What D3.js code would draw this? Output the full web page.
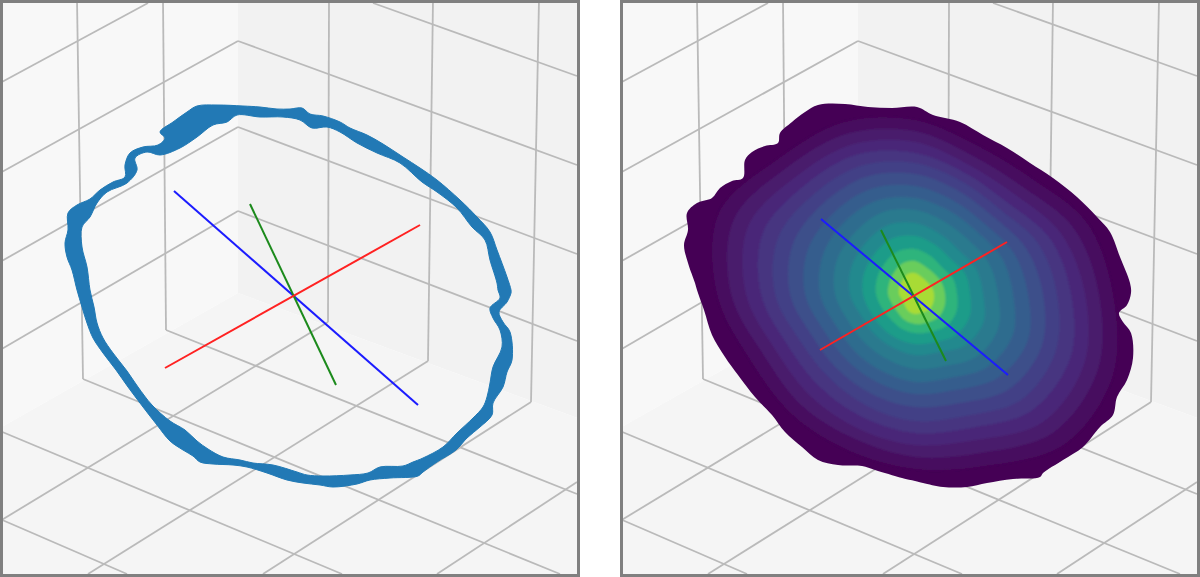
<!DOCTYPE html>
<html>
<head>
<meta charset="utf-8">
<script src="https://cdn.jsdelivr.net/npm/d3@7"></script>
<style>
  html, body { margin: 0; padding: 0; background: #fff; }
  svg { display: block; }
</style>
</head>
<body>
<div id="chart"></div>
<script>
// scene coordinates, same for both panels
let leftWall = [[0, 0], [238, 0], [238, 293], [0, 428]];
let rightWall = [[238, 0], [580, 0], [580, 419], [238, 293]];
let floor = [[0, 428], [238, 293], [580, 419], [580, 577], [0, 577]];

// grid lines as x1, y1, x2, y2
let wallGrid = [
  [0, 83, 148, 3], [0, 173, 238, 41], [0, 262, 238, 127], [0, 350, 238, 211],
  [373, 3, 577, 76], [238, 41, 577, 165], [238, 127, 577, 254], [238, 211, 577, 341],
  [77, 0, 83, 379], [163, 0, 166, 330], [329, 0, 328, 322], [433, 0, 428, 361], [539, 0, 531, 402]
];
let floorGrid = [
  [83, 379, 560, 574], [166, 330, 577, 494], [0, 431, 342, 574], [0, 519, 127, 574],
  [328, 322, 0, 521], [428, 361, 88, 574], [531, 402, 263, 574], [577, 482, 437, 574]
];

// axis segments, left panel then right panel
let axisNames = ["blue", "green", "red"];
let axisColors = ["#1a1aff", "#1c8a1c", "#ff2020"];
let leftAxes = [[174, 191, 418, 405], [250, 204, 336, 385], [165, 368, 420, 225]];
let rightAxes = [[201, 219, 388, 375], [261, 230, 326, 361], [200, 350, 387, 242]];

// left panel: edges of the ring
let ringOuter = [[197,106],[217,105],[243,106],[260,107],[277,109],[290,109],[302,108],[310,114],[323,116],[340,122],[350,128],[367,135],[383,144],[403,157],[420,168],[437,180],[460,200],[477,217],[490,232],[497,250],[507,277],[511,290],[511,293],[507,302],[499,312],[503,322],[510,332],[512,360],[507,372],[503,387],[493,403],[492,415],[480,427],[467,438],[456,450],[437,462],[423,472],[418,476],[390,478],[370,480],[357,484],[333,487],[320,485],[303,483],[287,480],[267,473],[247,467],[233,465],[213,464],[200,462],[193,456],[183,450],[170,441],[157,425],[143,407],[128,387],[116,370],[103,353],[93,338],[87,323],[82,307],[77,290],[72,270],[67,257],[65,243],[68,230],[68,213],[77,205],[90,199],[100,190],[113,182],[125,177],[125,165],[130,153],[143,147],[158,145],[165,138],[160,132],[173,122],[187,112]];
let ringInner = [[213,125],[227,122],[237,115],[260,117],[283,117],[300,120],[312,128],[327,127],[340,132],[357,143],[377,153],[400,163],[422,182],[437,192],[457,208],[472,227],[485,240],[490,260],[497,283],[498,290],[500,298],[490,308],[493,318],[500,330],[502,347],[493,367],[490,383],[487,397],[483,407],[473,418],[457,433],[443,447],[423,458],[413,462],[403,466],[380,467],[368,473],[350,475],[323,476],[307,475],[297,472],[273,465],[253,463],[240,460],[223,457],[208,449],[197,441],[185,430],[170,421],[152,405],[138,387],[127,371],[113,353],[103,338],[97,323],[94,307],[90,290],[87,267],[82,247],[82,227],[90,217],[97,203],[107,192],[127,183],[137,170],[135,158],[147,152],[160,155],[180,148],[197,137]];

// right panel: outline of the filled patch
let patchOutline = [[198,105],[225,104],[248,107],[272,108],[297,107],[313,115],[340,122],[363,135],[387,148],[410,163],[433,178],[457,197],[477,217],[490,232],[500,257],[510,283],[511,293],[507,305],[499,313],[503,322],[511,333],[513,358],[507,380],[497,397],[493,415],[480,427],[463,447],[443,460],[423,473],[420,477],[393,479],[367,483],[347,487],[323,487],[303,483],[295,481],[282,478],[255,470],[242,466],[218,465],[198,460],[182,447],[165,432],[152,415],[135,397],[118,375],[105,357],[92,335],[84,310],[77,290],[75,283],[68,263],[64,245],[68,230],[67,213],[77,203],[92,198],[100,188],[112,181],[123,178],[125,160],[132,152],[145,146],[158,143],[160,133],[172,122],[185,112]];

// contour bands of the patch: radius from the peak at each angle (deg clockwise from east)
let bandCenter = [295, 294];
let bandAngles = [0, 22.5, 45, 67.5, 90, 112.5, 135, 157.5, 180, 202.5, 225, 247.5, 270, 292.5, 315, 337.5];
let bandValues = [0.03, 0.07, 0.11, 0.15, 0.19, 0.24, 0.29, 0.35, 0.41, 0.47, 0.55, 0.65, 0.77, 0.87];
let bandRadii = [
  [198,214,212,186,175,170,172,177,198,212,192,186,174,161,164,186],
  [184,198,196,172,163,157,159,163,184,196,180,174,163,150,152,172],
  [170,183,181,158,151,146,146,150,169,180,167,162,152,140,141,158],
  [156,168,165,145,139,134,133,137,154,164,155,151,141,131,130,146],
  [142,152,150,132,127,122,120,124,140,148,142,139,131,122,120,133],
  [128,137,134,118,113,109,108,111,125,132,129,127,120,112,110,120],
  [113,122,118,104,100,96,95,98,110,116,115,114,108,101,99,107],
  [98,106,103,91,88,84,83,85,95,100,101,101,96,90,88,94],
  [83,90,88,78,75,71,70,72,80,85,86,88,84,78,76,80],
  [68,74,72,63,61,58,57,58,65,69,71,74,71,65,62,66],
  [55,59,58,52,50,48,47,48,52,55,57,60,58,53,50,54],
  [42,45,45,41,39,37,35,36,39,41,43,46,45,41,38,41],
  [30,32,33,31,30,28,25,25,27,28,30,33,33,29,28,29],
  [19,20,21,20,20,18,15,14,16,17,18,21,21,18,17,18]
];

let width = 1200;
let height = 577;
let panelWidth = 580;

let svg = d3
  .select("#chart")
  .append("svg")
  .attr("width", width)
  .attr("height", height);

// the picture is a slightly soft raster
let defs = svg.append("defs");
function softFilter(id, dev) {
  defs
    .append("filter")
    .attr("id", id)
    .attr("x", "-3%")
    .attr("y", "-3%")
    .attr("width", "106%")
    .attr("height", "106%")
    .append("feGaussianBlur")
    .attr("stdDeviation", dev);
}
softFilter("soft", 0.6);
softFilter("softBands", 1.3);

let color = d3.scaleSequential(d3.interpolateViridis).domain([0, 1]);

function drawPanel(id, left, axes) {
  let x = d3.scaleLinear().domain([0, panelWidth]).range([left, left + panelWidth]);
  let y = d3.scaleLinear().domain([0, height]).range([0, height]);
  let line = d3.line().x(d => x(d[0])).y(d => y(d[1]));

  defs
    .append("clipPath")
    .attr("id", "clip-" + id)
    .append("rect")
    .attr("x", x(0))
    .attr("y", y(0))
    .attr("width", panelWidth)
    .attr("height", height);

  let g = svg
    .append("g")
    .attr("clip-path", "url(#clip-" + id + ")");
  let soft = g.append("g").attr("filter", "url(#soft)");

  // walls and floor
  let panes = [[leftWall, "#f8f8f8"], [rightWall, "#f2f2f2"], [floor, "#f5f5f5"]];
  soft
    .selectAll("path.pane")
    .data(panes)
    .join("path")
    .attr("class", "pane")
    .attr("d", d => line.curve(d3.curveLinearClosed)(d[0]))
    .attr("fill", d => d[1]);

  // grid
  soft
    .selectAll("line.grid")
    .data(wallGrid.concat(floorGrid))
    .join("line")
    .attr("class", "grid")
    .attr("x1", d => x(d[0]))
    .attr("y1", d => y(d[1]))
    .attr("x2", d => x(d[2]))
    .attr("y2", d => y(d[3]))
    .attr("stroke", "#bababa")
    .attr("stroke-width", 1.8);

  return { g, soft, x, y, line, axes };
}

function drawAxes(panel) {
  panel.soft
    .selectAll("line.axis")
    .data(panel.axes)
    .join("line")
    .attr("class", "axis")
    .attr("data-name", (d, i) => axisNames[i])
    .attr("x1", d => panel.x(d[0]))
    .attr("y1", d => panel.y(d[1]))
    .attr("x2", d => panel.x(d[2]))
    .attr("y2", d => panel.y(d[3]))
    .attr("stroke", (d, i) => axisColors[i])
    .attr("stroke-width", 2);
}

function drawFrame(panel) {
  panel.g
    .append("rect")
    .attr("x", panel.x(0) + 1.5)
    .attr("y", panel.y(0) + 1.5)
    .attr("width", panelWidth - 3)
    .attr("height", height - 3)
    .attr("fill", "none")
    .attr("stroke", "#808080")
    .attr("stroke-width", 3);
}

// LEFT PANEL \\
let leftPanel = drawPanel("left", 0, leftAxes);
let ringLine = leftPanel.line.curve(d3.curveCatmullRomClosed);
leftPanel.soft
  .append("path")
  .attr("d", ringLine(ringOuter) + ringLine(ringInner))
  .attr("fill", "#2079b5")
  .attr("fill-rule", "evenodd")
  .attr("stroke", "#2079b5")
  .attr("stroke-width", 1)
  .attr("stroke-linejoin", "round");
drawAxes(leftPanel);
drawFrame(leftPanel);

// RIGHT PANEL \\
let rightPanel = drawPanel("right", 620, rightAxes);
let outlinePath = rightPanel.line.curve(d3.curveCatmullRomClosed)(patchOutline);

defs
  .append("clipPath")
  .attr("id", "clip-patch")
  .append("path")
  .attr("d", outlinePath);

rightPanel.soft
  .append("path")
  .attr("d", outlinePath)
  .attr("fill", color(0));

let radial = d3
  .lineRadial()
  .angle((d, i) => ((bandAngles[i] + 90) * Math.PI) / 180)
  .radius(d => d)
  .curve(d3.curveCatmullRomClosed);

rightPanel.soft
  .append("g")
  .attr("clip-path", "url(#clip-patch)")
  .append("g")
  .attr("filter", "url(#softBands)")
  .attr("transform", "translate(" + rightPanel.x(bandCenter[0]) + "," + rightPanel.y(bandCenter[1]) + ")")
  .selectAll("path")
  .data(bandRadii)
  .join("path")
  .attr("d", d => radial(d))
  .attr("fill", (d, i) => color(bandValues[i]));

drawAxes(rightPanel);
drawFrame(rightPanel);
</script>
</body>
</html>
